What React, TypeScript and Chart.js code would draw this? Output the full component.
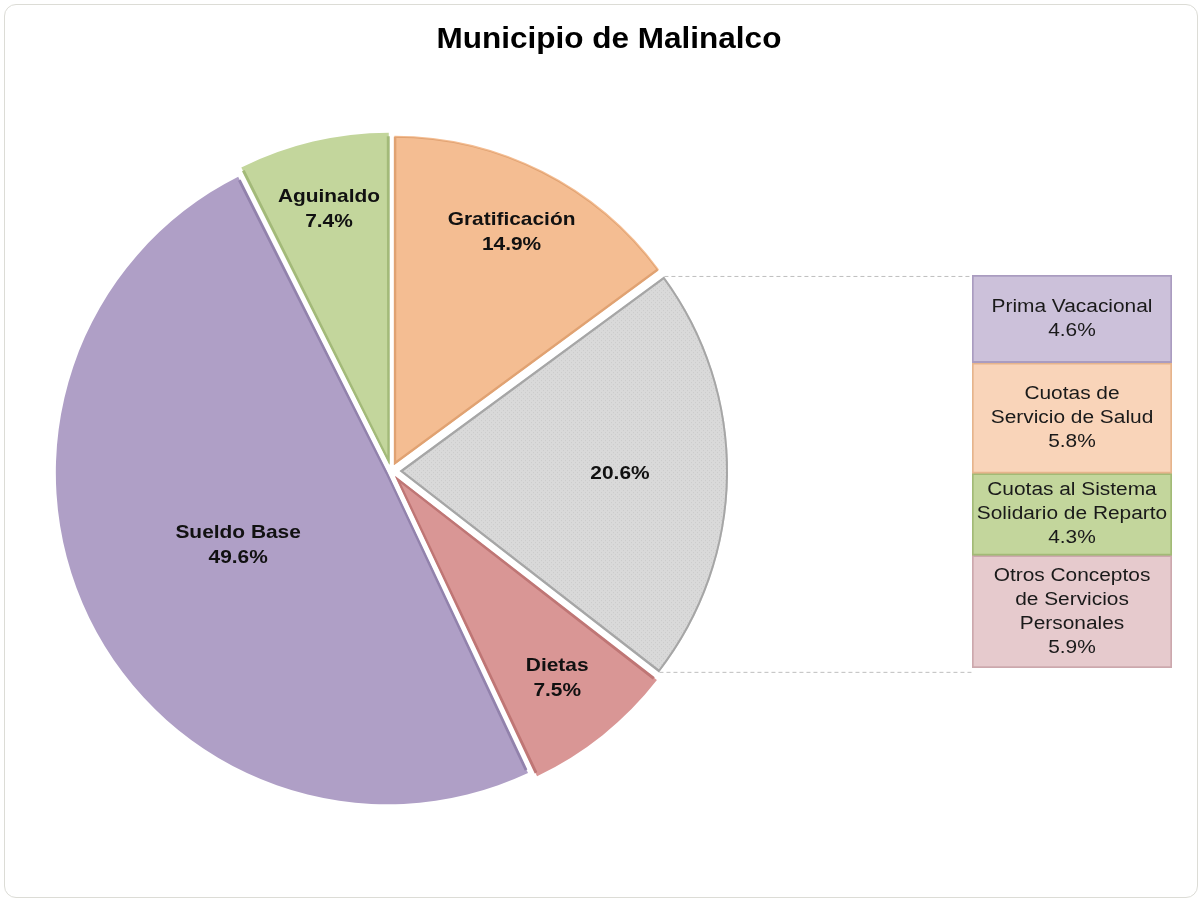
import React, { useEffect, useRef } from 'react';
import { Chart, registerables } from 'chart.js';

Chart.register(...registerables);

// ---------- data ----------
const pieCategories = ['Gratificación', 'Otros', 'Dietas', 'Sueldo Base', 'Aguinaldo'];
const pieValues = [14.9, 20.6, 7.5, 49.6, 7.4];
const pieShowName = [true, false, true, true, true];

const barCategories = [
  'Prima Vacacional',
  'Cuotas de Servicio de Salud',
  'Cuotas al Sistema Solidario de Reparto',
  'Otros Conceptos de Servicios Personales',
];
const barLabelLines = [
  ['Prima Vacacional'],
  ['Cuotas de', 'Servicio de Salud'],
  ['Cuotas al Sistema', 'Solidario de Reparto'],
  ['Otros Conceptos', 'de Servicios', 'Personales'],
];
const barValues = [4.6, 5.8, 4.3, 5.9];

const titleText = 'Municipio de Malinalco';

// ---------- styles ----------
const pieColors = ['#F4BD92', 'pattern', '#D99695', '#AF9FC6', '#C3D69C'];
const pieBorderColors = ['#E0A272', '#A6A6A6', '#BF7675', '#9282AC', '#A3BA79'];
const pieOffsets = [28, 36, 28, 16, 28]; // chart.js moves a slice by offset / 4 px
const pieLabelFrac = [0.79, 0.67, 0.78, 0.5, 0.79];
const barColors = ['#CCC1DA', '#F9D4B9', '#C3D69C', '#E6CACD'];
const barBorderColors = ['#AA9CC0', '#E6B48C', '#A2BA76', '#CCA8AD'];

const PIE_CX = 391;
const PIE_CY = 471;
const PIE_R = 328;
const BAR_LEFT = 972;
const BAR_TOP = 275;
const BAR_W = 200;
const BAR_H = 393;
const FONT = '"Liberation Sans", Arial, Helvetica, sans-serif';

function drawScaled(ctx: CanvasRenderingContext2D, text: string, x: number, y: number, sx: number) {
  ctx.save();
  ctx.translate(x, y);
  ctx.scale(sx, 1);
  ctx.fillText(text, 0, 0);
  ctx.restore();
}

function makePattern(): CanvasPattern | string {
  const c = document.createElement('canvas');
  c.width = 4;
  c.height = 4;
  const g = c.getContext('2d');
  if (!g) return '#D9D9D9';
  g.fillStyle = '#D9D9D9';
  g.fillRect(0, 0, 4, 4);
  g.fillStyle = '#CBCBCB';
  g.fillRect(0, 0, 1, 1);
  g.fillRect(2, 2, 1, 1);
  const p = g.createPattern(c, 'repeat');
  return p || '#D9D9D9';
}

function arcGeom(el: any) {
  const p = el.getProps(['x', 'y', 'startAngle', 'endAngle', 'outerRadius'], true);
  const shift = (el.options.offset || 0) / 4;
  const mid = (p.startAngle + p.endAngle) / 2;
  const circ = p.endAngle - p.startAngle;
  const fix = 1 - Math.sin(Math.min(Math.PI, circ || 0));
  return {
    cx: p.x + Math.cos(mid) * shift,
    cy: p.y + Math.sin(mid) * shift,
    start: p.startAngle,
    end: p.endAngle,
    mid,
    r: p.outerRadius + shift * fix,
  };
}

const piePlugin = {
  id: 'pieDecor',
  afterDatasetsDraw(chart: any) {
    const ctx: CanvasRenderingContext2D = chart.ctx;
    const meta = chart.getDatasetMeta(0);
    // connector lines from the grey slice to the bar
    const g = arcGeom(meta.data[1]);
    const ax = g.cx + Math.cos(g.start) * g.r;
    const ay = g.cy + Math.sin(g.start) * g.r;
    const bx = g.cx + Math.cos(g.end) * g.r;
    const by = g.cy + Math.sin(g.end) * g.r;
    ctx.save();
    ctx.strokeStyle = '#BFBFBF';
    ctx.lineWidth = 1;
    ctx.setLineDash([4, 3]);
    ctx.beginPath();
    ctx.moveTo(ax, ay);
    ctx.lineTo(BAR_LEFT, ay);
    ctx.moveTo(bx, by);
    ctx.lineTo(BAR_LEFT, by);
    ctx.stroke();
    ctx.restore();

    // labels
    ctx.save();
    ctx.fillStyle = '#111111';
    ctx.font = `bold 19px ${FONT}`;
    ctx.textAlign = 'center';
    ctx.textBaseline = 'middle';
    meta.data.forEach((el: any, i: number) => {
      const a = arcGeom(el);
      const r = pieLabelFrac[i] * a.r;
      const x = a.cx + Math.cos(a.mid) * r;
      const y = a.cy + Math.sin(a.mid) * r;
      const lines = pieShowName[i]
        ? [pieCategories[i], pieValues[i].toFixed(1) + '%']
        : [pieValues[i].toFixed(1) + '%'];
      const lh = 25;
      const y0 = y - ((lines.length - 1) * lh) / 2;
      lines.forEach((t, k) => drawScaled(ctx, t, x, y0 + k * lh, 1.1));
    });
    ctx.restore();
  },
};

const barLabelPlugin = {
  id: 'barLabels',
  afterDatasetsDraw(chart: any) {
    const ctx: CanvasRenderingContext2D = chart.ctx;
    ctx.save();
    ctx.fillStyle = '#1A1A1A';
    ctx.font = `18px ${FONT}`;
    ctx.textAlign = 'center';
    ctx.textBaseline = 'middle';
    barCategories.forEach((_, i) => {
      const el = chart.getDatasetMeta(i).data[0];
      const p = el.getProps(['x', 'y', 'base'], true);
      const cy = (p.y + p.base) / 2;
      const lines = [...barLabelLines[i], barValues[i].toFixed(1) + '%'];
      const lh = 24;
      const y0 = cy - ((lines.length - 1) * lh) / 2;
      lines.forEach((t, k) => drawScaled(ctx, t, p.x, y0 + k * lh, 1.16));
    });
    ctx.restore();
  },
};

export default function App() {
  const pieRef = useRef<HTMLCanvasElement | null>(null);
  const barRef = useRef<HTMLCanvasElement | null>(null);

  useEffect(() => {
    document.body.style.margin = '0';
    document.body.style.overflow = 'hidden';
    const pattern = makePattern();
    const half = PIE_R + 20;
    const pie = new Chart(pieRef.current as HTMLCanvasElement, {
      type: 'pie',
      data: {
        labels: pieCategories,
        datasets: [
          {
            data: pieValues,
            backgroundColor: pieColors.map((c) => (c === 'pattern' ? pattern : c)) as any,
            borderColor: pieBorderColors,
            borderWidth: 2,
            borderAlign: 'inner',
            offset: pieOffsets,
            hoverOffset: 0,
          } as any,
        ],
      },
      options: {
        animation: false,
        responsive: false,
        radius: PIE_R,
        rotation: 0,
        layout: {
          padding: {
            left: PIE_CX - half,
            right: 1203 - PIE_CX - half,
            top: PIE_CY - half,
            bottom: 901 - PIE_CY - half,
          },
        },
        plugins: {
          legend: { display: false },
          tooltip: { enabled: false },
        },
        events: [],
      } as any,
      plugins: [piePlugin],
    });

    const total = barValues.reduce((a, b) => a + b, 0);
    const bar = new Chart(barRef.current as HTMLCanvasElement, {
      type: 'bar',
      data: {
        labels: ['Otros'],
        datasets: barCategories.map((c, i) => ({
          label: c,
          data: [barValues[i]],
          backgroundColor: barColors[i],
          borderColor: barBorderColors[i],
          borderWidth: 2,
          borderSkipped: false,
          barPercentage: 1,
          categoryPercentage: 1,
        })) as any,
      },
      options: {
        animation: false,
        responsive: false,
        layout: { padding: 0 },
        plugins: {
          legend: { display: false },
          tooltip: { enabled: false },
        },
        events: [],
        scales: {
          x: { stacked: true, display: false },
          y: { stacked: true, display: false, reverse: true, min: 0, max: total },
        },
      } as any,
      plugins: [barLabelPlugin],
    });

    return () => {
      pie.destroy();
      bar.destroy();
    };
  }, []);

  return (
    <div style={{ position: 'absolute', left: 0, top: 0, width: 1203, height: 901, background: '#FFFFFF', overflow: 'hidden' }}>
      <div
        style={{
          position: 'absolute',
          left: 4,
          top: 4,
          width: 1192,
          height: 892,
          border: '1.5px solid #DCDCD6',
          borderRadius: 12,
        }}
      />
      <canvas
        ref={pieRef}
        width={1203}
        height={901}
        style={{ position: 'absolute', left: 0, top: 0, width: 1203, height: 901, display: 'block' }}
      />
      <canvas
        ref={barRef}
        width={BAR_W}
        height={BAR_H}
        style={{ position: 'absolute', left: BAR_LEFT, top: BAR_TOP, width: BAR_W, height: BAR_H, display: 'block' }}
      />
      <div
        style={{
          position: 'absolute',
          left: 0,
          top: 23,
          width: 1218,
          textAlign: 'center',
          fontFamily: FONT,
          fontWeight: 'bold',
          fontSize: 30,
          lineHeight: '30px',
          color: '#000000',
          transform: 'scaleX(1.05)',
          transformOrigin: '609px 0',
          whiteSpace: 'nowrap',
        }}
      >
        {titleText}
      </div>
    </div>
  );
}
